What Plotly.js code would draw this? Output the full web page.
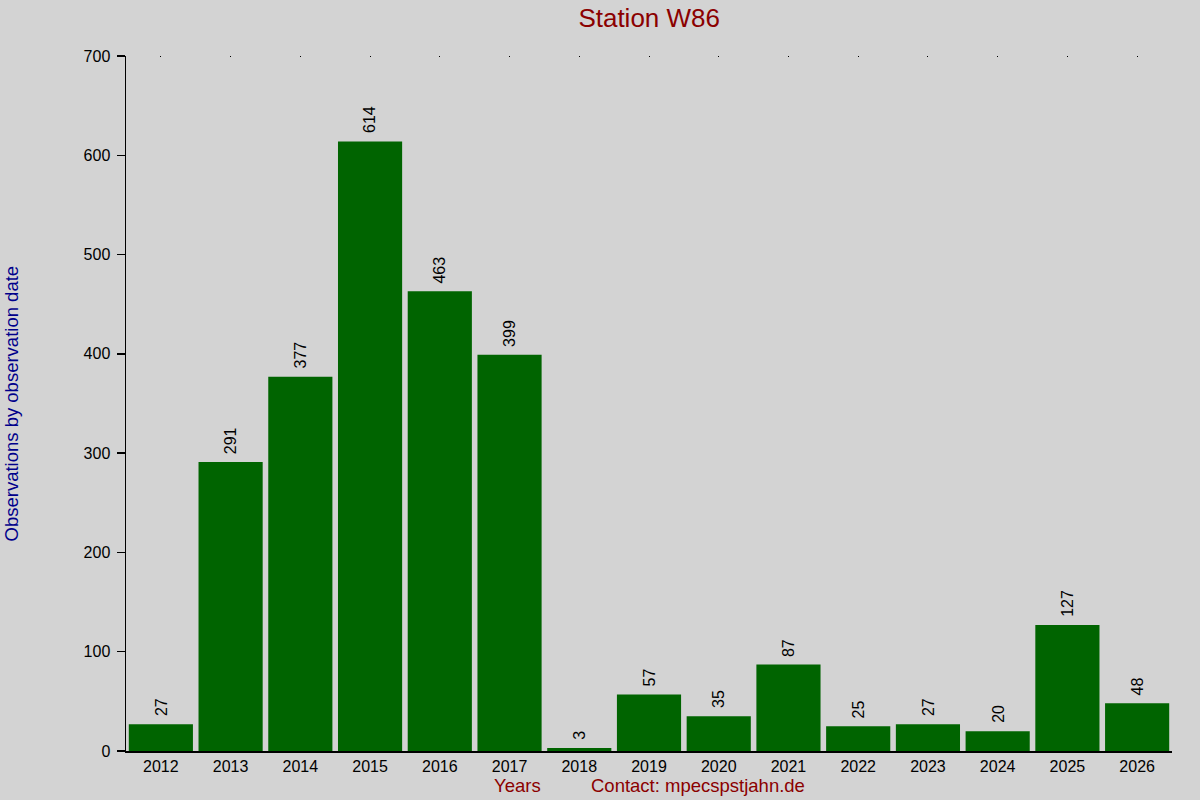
<!DOCTYPE html>
<html><head><meta charset="utf-8">
<script src="https://cdn.plot.ly/plotly-3.0.1.min.js"></script>
<style>html,body{margin:0;padding:0;background:#d3d3d3;}</style>
</head><body>
<div id="chart" style="width:1200px;height:800px;"></div>
<script>
const years = ['2012','2013','2014','2015','2016','2017','2018','2019','2020','2021','2022','2023','2024','2025','2026'];
const observations = [27,291,377,614,463,399,3,57,35,87,25,27,20,127,48];
const yTicks = [0,100,200,300,400,500,600,700];

const font = 'Liberation Sans, Arial, sans-serif';
const traces = [{
  type: 'bar',
  x: years,
  y: observations,
  marker: {color: '#006400', line: {width: 0}},
  hoverinfo: 'x+y'
}, {
  type: 'scatter',
  x: years,
  y: observations,
  xaxis: 'x2',
  mode: 'none',
  hoverinfo: 'skip',
  showlegend: false
}];

// category axis: annotation x given as category index
const valueLabels = years.map((yr, i) => ({
  text: String(observations[i]), x: i, y: observations[i], xref: 'x', yref: 'y',
  textangle: -90, xanchor: 'center', yanchor: 'bottom', yshift: 6,
  showarrow: false, font: {family: font, size: 16, color: '#000'}
}));

const layout = {
  width: 1200, height: 800,
  paper_bgcolor: '#d3d3d3',
  plot_bgcolor: '#d3d3d3',
  margin: {l: 126, r: 28, t: 56, b: 49},
  bargap: 0.08,
  showlegend: false,
  title: {text: 'Station W86', font: {family: font, size: 26, color: '#8b0000'}, x: 0.541, xanchor: 'center', y: 0.978, yanchor: 'middle'},
  xaxis: {
    type: 'category',
    categoryarray: years,
    range: [-0.5, years.length - 0.5],
    showline: true, linecolor: '#000', linewidth: 1.5,
    ticks: '', showgrid: false, zeroline: false,
    tickfont: {family: font, size: 16, color: '#000'},
    ticklabelstandoff: 0
  },
  xaxis2: {
    type: 'category',
    categoryarray: years,
    range: [-0.5, years.length - 0.5],
    overlaying: 'x', side: 'top', anchor: 'y',
    showline: false, showgrid: false, zeroline: false,
    ticks: 'inside', ticklen: 1, tickwidth: 1, tickcolor: '#000',
    showticklabels: false
  },
  yaxis: {
    range: [0, 700],
    tickvals: yTicks,
    showline: true, linecolor: '#000', linewidth: 1.5,
    ticks: 'outside', ticklen: 8, tickcolor: '#000', tickwidth: 1.5,
    showgrid: false, zeroline: false,
    tickfont: {family: font, size: 16, color: '#000'},
    ticklabelstandoff: 3
  },
  annotations: valueLabels.concat([
    {text: 'Observations by observation date', xref: 'paper', yref: 'paper', x: -(126-11)/1046, y: 0.5, xanchor: 'center', yanchor: 'middle', textangle: -90, showarrow: false, font: {family: font, size: 18.5, color: '#00008b'}},
    {text: 'Years', xref: 'paper', yref: 'paper', x: (517-126)/1046, y: -(786-751)/695, xanchor: 'center', yanchor: 'middle', showarrow: false, font: {family: font, size: 18.5, color: '#8b0000'}},
    {text: 'Contact: mpecspstjahn.de', xref: 'paper', yref: 'paper', x: (698-126)/1046, y: -(786-751)/695, xanchor: 'center', yanchor: 'middle', showarrow: false, font: {family: font, size: 18.5, color: '#8b0000'}}
  ])
};

Plotly.newPlot('chart', traces, layout, {displayModeBar: false, staticPlot: true});
</script>
</body></html>
